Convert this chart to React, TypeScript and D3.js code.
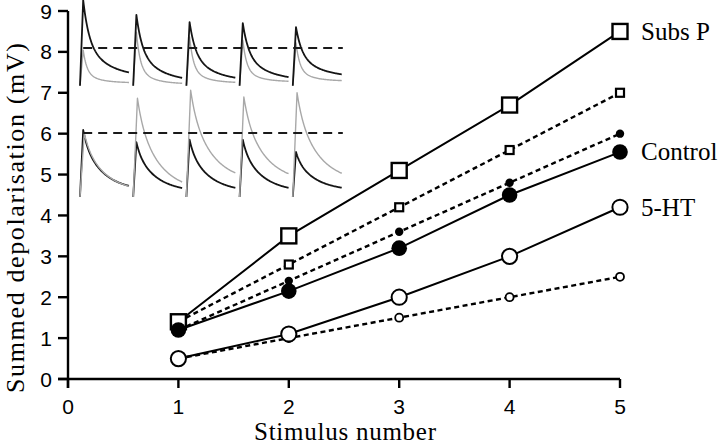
import React from "react";
import * as d3 from "d3";

// ---- main chart data ----
const stimuli = [1, 2, 3, 4, 5];
const subsP = [1.4, 3.5, 5.1, 6.7, 8.5];
const subsPDotted = [1.4, 2.8, 4.2, 5.6, 7.0];
const control = [1.2, 2.15, 3.2, 4.5, 5.55];
const controlDotted = [1.2, 2.4, 3.6, 4.8, 6.0];
const ht = [0.5, 1.1, 2.0, 3.0, 4.2];
const htDotted = [0.5, 1.0, 1.5, 2.0, 2.5];
const xTicks = [0, 1, 2, 3, 4, 5];
const yTicks = [0, 1, 2, 3, 4, 5, 6, 7, 8, 9];
const seriesLabels = ["Subs P", "Control", "5-HT"];

// ---- inset (recordings) data, amplitudes relative to dashed reference ----
const insetStimTimes = [0, 50, 100, 150, 200]; // ms
const topBlackPeaks = [2.33, 1.92, 1.72, 1.69, 1.58];
const topBlackEnds = [0.17, 0.04, 0.06, 0.08, 0.17];
const topGrayPeaks = [0.94, 1.44, 1.31, 1.22, 1.14];
const topGrayEnds = [0.03, 0.0, 0.03, 0.06, 0.08];
const botBlackPeaks = [1.05, 0.85, 0.89, 0.89, 0.69];
const botBlackEnds = [0.05, 0.03, 0.03, 0.03, 0.05];
const botGrayPeaks = [1.0, 1.57, 1.7, 1.59, 1.66];
const botGrayEnds = [0.02, 0.03, 0.18, 0.18, 0.18];

const SERIF = "'Liberation Serif', 'Times New Roman', serif";
const SANS = "'Liberation Sans', Arial, sans-serif";

const W = 720;
const H = 445;

const x = d3.scaleLinear().domain([0, 5]).range([68, 620]);
const y = d3.scaleLinear().domain([0, 9]).range([379, 11]);

// inset scales
const tx = d3.scaleLinear().domain([0, 250]).range([80, 346]);
const topY = d3.scaleLinear().domain([0, 1]).range([84, 48]);
const botY = d3.scaleLinear().domain([0, 1]).range([194, 133]);

type Decay = { a: number; t1: number; t2: number; rise: number };

function epspPath(
  yScale: d3.ScaleLinear<number, number>,
  peaks: number[],
  ends: number[],
  decay: Decay
): string {
  const dur = 46;
  const parts: string[] = [];
  insetStimTimes.forEach((t0, i) => {
    const pk = peaks[i];
    const en = ends[i];
    const pts: [number, number][] = [];
    pts.push([t0, -0.05]);
    pts.push([t0 + decay.rise, pk]);
    for (let t = decay.rise + 0.5; t <= dur; t += 0.5) {
      const s = t - decay.rise;
      const f = decay.a * Math.exp(-s / decay.t1) + (1 - decay.a) * Math.exp(-s / decay.t2);
      pts.push([t0 + t, en + (pk - en) * f]);
    }
    const line = d3
      .line<[number, number]>()
      .x((d) => tx(d[0]))
      .y((d) => yScale(d[1]));
    parts.push(line(pts) || "");
  });
  return parts.join(" ");
}

const lineGen = (vals: number[]) =>
  d3
    .line<number>()
    .x((_, i) => x(stimuli[i]))
    .y((d) => y(d))(vals) || "";

export default function App() {
  const topDecayBlack: Decay = { a: 0.55, t1: 5.5, t2: 23, rise: 3 };
  const topDecayGray: Decay = { a: 0.7, t1: 3.5, t2: 14, rise: 3 };
  const botDecayBlack: Decay = { a: 0.2, t1: 4, t2: 19, rise: 3 };
  const botDecayGray: Decay = { a: 0.2, t1: 5, t2: 21, rise: 4 };

  const dotted = "5 3.5";
  const lbigSq = 15;
  const smSq = 8;

  return (
    <svg
      width={W}
      height={H}
      style={{ position: "absolute", left: 0, top: 0, background: "#fff" }}
    >
      <rect x={0} y={0} width={W} height={H} fill="#fff" />

      {/* inset recordings */}
      <g fill="none" strokeLinejoin="round">
        <path d={epspPath(topY, topGrayPeaks, topGrayEnds, topDecayGray)} stroke="#a8a8a8" strokeWidth={1.4} />
        <path d={epspPath(topY, topBlackPeaks, topBlackEnds, topDecayBlack)} stroke="#151515" strokeWidth={1.8} />
        <path d={epspPath(botY, botBlackPeaks, botBlackEnds, botDecayBlack)} stroke="#151515" strokeWidth={1.8} />
        <path d={epspPath(botY, botGrayPeaks, botGrayEnds, botDecayGray)} stroke="#a8a8a8" strokeWidth={1.4} />
        <line x1={tx(3)} x2={tx(247)} y1={topY(1)} y2={topY(1)} stroke="#1a1a1a" strokeWidth={2.2} strokeDasharray="9 6" />
        <line x1={tx(3)} x2={tx(247)} y1={botY(1)} y2={botY(1)} stroke="#1a1a1a" strokeWidth={2.2} strokeDasharray="9 6" />
      </g>

      {/* axes */}
      <g stroke="#000" strokeWidth={2.4} fill="none">
        <line x1={x(0)} x2={x(0)} y1={y(9)} y2={y(0) + 9} />
        <line x1={x(0) - 10} x2={x(5)} y1={y(0)} y2={y(0)} />
        {yTicks.map((t) => (
          <line key={"yt" + t} x1={x(0) - 10} x2={x(0)} y1={y(t)} y2={y(t)} />
        ))}
        {xTicks.map((t) => (
          <line key={"xt" + t} x1={x(t)} x2={x(t)} y1={y(0)} y2={y(0) + 9} />
        ))}
      </g>
      <g fontFamily={SANS} fontSize={21} fill="#000">
        {yTicks.map((t) => (
          <text key={"yl" + t} x={52} y={y(t)} dy="0.36em" textAnchor="end">
            {t}
          </text>
        ))}
        {xTicks.map((t) => (
          <text key={"xl" + t} x={x(t)} y={414} textAnchor="middle">
            {t}
          </text>
        ))}
      </g>
      <text
        x={345}
        y={440}
        textAnchor="middle"
        fontFamily={SERIF}
        fontSize={25}
        textLength={182}
        lengthAdjust="spacing"
      >
        Stimulus number
      </text>
      <text
        transform={`translate(24, 218) rotate(-90)`}
        textAnchor="middle"
        fontFamily={SERIF}
        fontSize={26}
        textLength={350}
        lengthAdjust="spacing"
      >
        Summed depolarisation (mV)
      </text>

      {/* series lines */}
      <g fill="none" stroke="#000">
        <path d={lineGen(subsPDotted)} strokeWidth={2.4} strokeDasharray={dotted} />
        <path d={lineGen(controlDotted)} strokeWidth={2.4} strokeDasharray={dotted} />
        <path d={lineGen(htDotted)} strokeWidth={2.4} strokeDasharray={dotted} />
        <path d={lineGen(subsP)} strokeWidth={2} />
        <path d={lineGen(control)} strokeWidth={2} />
        <path d={lineGen(ht)} strokeWidth={2} />
      </g>

      {/* small markers */}
      {subsPDotted.map((v, i) => (
        <rect key={"ss" + i} x={x(stimuli[i]) - smSq / 2} y={y(v) - smSq / 2} width={smSq} height={smSq} fill="#fff" stroke="#000" strokeWidth={2.2} />
      ))}
      {controlDotted.map((v, i) => (
        <circle key={"sc" + i} cx={x(stimuli[i])} cy={y(v)} r={4.2} fill="#000" />
      ))}
      {htDotted.map((v, i) => (
        <circle key={"so" + i} cx={x(stimuli[i])} cy={y(v)} r={4} fill="#fff" stroke="#000" strokeWidth={1.8} />
      ))}

      {/* large markers */}
      {subsP.map((v, i) => (
        <rect key={"ls" + i} x={x(stimuli[i]) - lbigSq / 2} y={y(v) - lbigSq / 2} width={lbigSq} height={lbigSq} fill="#fff" stroke="#000" strokeWidth={2.4} />
      ))}
      {ht.map((v, i) => (
        <circle key={"lo" + i} cx={x(stimuli[i])} cy={y(v)} r={7.6} fill="#fff" stroke="#000" strokeWidth={2} />
      ))}
      {control.map((v, i) => (
        <circle key={"lc" + i} cx={x(stimuli[i])} cy={y(v)} r={7.8} fill="#000" />
      ))}

      {/* series labels */}
      <g fontFamily={SERIF} fontSize={25} fill="#000">
        <text x={641} y={y(subsP[4])} dy="0.33em">{seriesLabels[0]}</text>
        <text x={641} y={y(control[4])} dy="0.33em">{seriesLabels[1]}</text>
        <text x={641} y={y(ht[4])} dy="0.33em">{seriesLabels[2]}</text>
      </g>
    </svg>
  );
}
